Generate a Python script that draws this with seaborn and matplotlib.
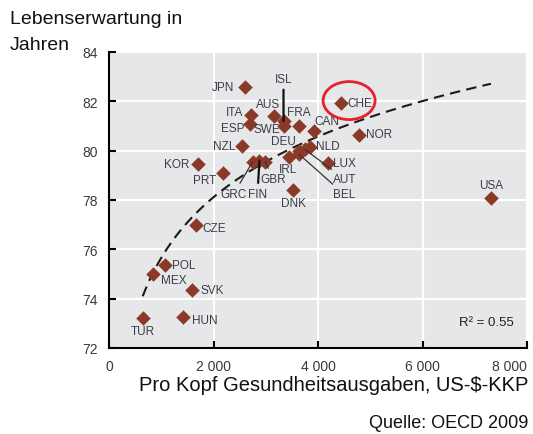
import matplotlib
matplotlib.use('Agg')
import matplotlib.pyplot as plt
import seaborn as sns
import pandas as pd
from matplotlib.patches import Ellipse

# values
countries = ['JPN', 'ISL', 'AUS', 'ITA', 'ESP', 'SWE', 'FRA', 'CAN', 'NZL', 'DEU',
             'NLD', 'AUT', 'BEL', 'IRL', 'LUX', 'DNK', 'NOR', 'CHE', 'USA', 'KOR',
             'PRT', 'GRC', 'FIN', 'GBR', 'CZE', 'POL', 'MEX', 'SVK', 'TUR', 'HUN']
spending = [2600, 3340, 3160, 2710, 2700, 3340, 3640, 3920, 2540, 3640,
            3850, 3750, 3640, 3450, 4190, 3530, 4790, 4440, 7310, 1710,
            2180, 2750, 2880, 2990, 1660, 1070, 840, 1580, 645, 1410]
life_exp = [82.6, 81.2, 81.4, 81.45, 81.1, 81.0, 81.0, 80.8, 80.2, 80.0,
            80.15, 80.05, 79.85, 79.75, 79.5, 78.4, 80.65, 81.95, 78.1, 79.45,
            79.1, 79.55, 79.6, 79.55, 77.0, 75.35, 75.0, 74.35, 73.2, 73.25]

x_ticks = [0, 2000, 4000, 6000, 8000]
x_tick_labels = ['0', '2 000', '4 000', '6 000', '8 000']
y_ticks = [72, 74, 76, 78, 80, 82, 84]

df = pd.DataFrame({'country': countries, 'spending': spending, 'life_exp': life_exp})

# label offsets in pixels from the marker, plus leader line type
label_pos = {
    'JPN': (-22, 0, None), 'ISL': (0, 42, 'bold'), 'AUS': (-6, 12, None),
    'ITA': (-16, 3, None), 'ESP': (-17, -4, None), 'SWE': (-17, -3, None),
    'FRA': (0, 14, None), 'CAN': (13, 10, None), 'NZL': (-18, 0, None),
    'DEU': (-16, 10, None), 'NLD': (18, 1, None), 'AUT': (40, -30, 'thin'),
    'BEL': (45, -40, 'thin'), 'IRL': (-1, -12, None), 'LUX': (17, 0, None),
    'DNK': (0, -13, None), 'NOR': (20, 1, None), 'CHE': (19, 0, None),
    'USA': (0, 13, None), 'KOR': (-22, 0, None), 'PRT': (-18, -7, None),
    'GRC': (-19, -32, 'thin'), 'FIN': (-2, -33, 'bold'), 'GBR': (8, -17, 'thin'),
    'CZE': (18, -3, None), 'POL': (19, 0, None), 'MEX': (21, -6, None),
    'SVK': (21, 0, None), 'TUR': (0, -13, None), 'HUN': (22, -3, None),
}

sns.set_theme(style='darkgrid', rc={'axes.facecolor': '#e6e7e8', 'grid.color': 'white'})
plt.rcParams['font.family'] = ['Liberation Sans', 'DejaVu Sans']

fig = plt.figure(figsize=(5.33, 4.35), dpi=100)
fig.patch.set_facecolor('white')
ax = fig.add_axes([109 / 533, 1 - 349 / 435, 418 / 533, 296 / 435])

sns.regplot(data=df, x='spending', y='life_exp', logx=True, scatter=False, ci=None,
            truncate=True, ax=ax,
            line_kws=dict(color='#1a1a1a', lw=1.5, ls=(0, (5, 3)), zorder=2))
sns.scatterplot(data=df, x='spending', y='life_exp', marker='D', color='#8b3a2a',
                s=55, linewidth=0, ax=ax, zorder=3)

text_color = '#3d3d4a'
for c, xv, yv in zip(countries, spending, life_exp):
    dx, dy, line = label_pos[c]
    arrow = None
    if line == 'bold':
        arrow = dict(arrowstyle='-', color='#111111', lw=1.6, shrinkA=1, shrinkB=0)
    elif line == 'thin':
        arrow = dict(arrowstyle='-', color='#333333', lw=0.9, shrinkA=1, shrinkB=0)
    ax.annotate(c, (xv, yv), xytext=(dx, dy), textcoords='offset pixels',
                ha='center', va='center', color=text_color, fontsize=8.5,
                arrowprops=arrow, zorder=4)

ax.add_patch(Ellipse((4595, 82.03), 995, 1.54, fill=False, edgecolor='#e8202a',
                     lw=2, zorder=5))
ax.text(7230, 73.05, 'R² = 0.55', ha='center', va='center', color='#222222',
        fontsize=9.5)

ax.set_xlim(0, 8000)
ax.set_ylim(72, 84)
ax.set_xticks(x_ticks)
ax.set_xticklabels(x_tick_labels)
ax.set_yticks(y_ticks)
ax.set_yticklabels([str(v) for v in y_ticks])
ax.get_xticklabels()[-1].set_horizontalalignment('right')
ax.tick_params(direction='in', length=5, width=1.5, color='black', labelsize=10,
               labelcolor='#3a3a3a', pad=8, left=True, bottom=True)
ax.grid(True, color='white', lw=1.5)
ax.set_xlabel('')
ax.set_ylabel('')
for s in ['top', 'right']:
    ax.spines[s].set_visible(False)
for s in ['left', 'bottom']:
    ax.spines[s].set_visible(True)
    ax.spines[s].set_color('black')
    ax.spines[s].set_linewidth(1.5)

fig.text(10 / 533, 1 - 20 / 435, 'Lebenserwartung in', fontsize=14, ha='left', va='center', color='#111111')
fig.text(10 / 533, 1 - 45 / 435, 'Jahren', fontsize=14, ha='left', va='center', color='#111111')
fig.text(528 / 533, 1 - 386 / 435, 'Pro Kopf Gesundheitsausgaben, US-$-KKP', fontsize=14.5,
         ha='right', va='center', color='#111111')
fig.text(528 / 533, 1 - 424 / 435, 'Quelle: OECD 2009', fontsize=13, ha='right',
         va='center', color='#111111')

fig.savefig('out.png', dpi=100)
